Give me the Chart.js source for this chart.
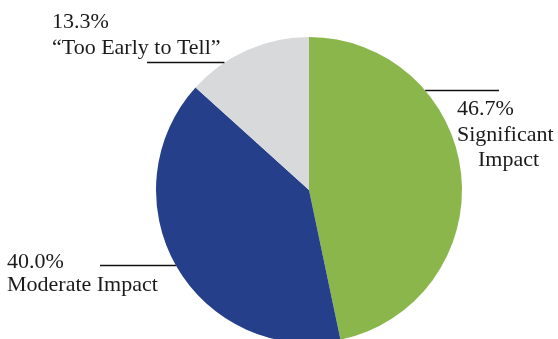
<!DOCTYPE html>
<html>
<head>
<meta charset="utf-8">
<script src="https://cdn.jsdelivr.net/npm/chart.js@4.4.1/dist/chart.umd.min.js"></script>
<style>
  html, body { margin: 0; padding: 0; background: #fff; overflow: hidden; }
  #wrap { position: relative; width: 558px; height: 339px; overflow: hidden; }
  #impactChart { position: absolute; left: 0; top: 0; }
</style>
</head>
<body>
<div id="wrap">
  <canvas id="impactChart" width="558" height="360"></canvas>
</div>
<script>
// survey answers, clockwise from 12 o'clock
const categories = ['Significant Impact', 'Moderate Impact', '\u201CToo Early to Tell\u201D'];
const shares = [46.7, 40.0, 13.3];
const sliceColors = ['#8ab64c', '#253f8b', '#d8d9db'];

// where each callout sits: text lines + leader line row, side of the pie it touches
const callouts = [
    { x: 457, y: 115, lineY: 90.5, lineTo: 499, side: 'right',
      lines: [{ t: 'pct', dx: 0 }, { t: 'Significant', dx: 0 }, { t: 'Impact', dx: 21 }] },
    { x: 7, y: 268, lineY: 265.5, lineTo: 100, side: 'left',
      lines: [{ t: 'pct', dx: 0 }, { t: 'name', dx: 0, gap: 22.5 }] },
    { x: 52, y: 28, lineY: 62.5, lineTo: 147, side: 'left',
      lines: [{ t: 'pct', dx: 0 }, { t: 'name', dx: 0 }] }
];

const calloutPlugin = {
    id: 'callouts',
    afterDraw(chart) {
        const ctx = chart.ctx;
        const meta = chart.getDatasetMeta(0);
        ctx.save();
        ctx.fillStyle = '#1a1a1a';
        ctx.strokeStyle = '#111';
        ctx.lineWidth = 1.5;
        ctx.font = '22px "Liberation Serif", "Times New Roman", serif';
        ctx.textBaseline = 'alphabetic';
        ctx.textAlign = 'left';

        callouts.forEach((c, i) => {
            const arc = meta.data[i];
            // leader line runs from the label to the pie's rim on that row
            const dy = c.lineY - arc.y;
            const half = Math.sqrt(Math.max(0, arc.outerRadius * arc.outerRadius - dy * dy));
            const rimX = c.side === 'right' ? arc.x + half : arc.x - half;
            ctx.beginPath();
            ctx.moveTo(c.lineTo, c.lineY);
            ctx.lineTo(rimX, c.lineY);
            ctx.stroke();

            let y = c.y;
            c.lines.forEach((ln, k) => {
                if (k > 0) y += ln.gap || 25.5;
                let txt = ln.t;
                if (txt === 'pct') txt = shares[i].toFixed(1) + '%';
                else if (txt === 'name') txt = categories[i];
                ctx.fillText(txt, c.x + ln.dx, y);
            });
        });
        ctx.restore();
    }
};

new Chart(document.getElementById('impactChart'), {
    type: 'pie',
    data: {
        labels: categories,
        datasets: [{
            data: shares,
            backgroundColor: sliceColors,
            borderWidth: 0
        }]
    },
    options: {
        responsive: false,
        animation: false,
        devicePixelRatio: 1,
        layout: { padding: { left: 156, right: 96, top: 37, bottom: 17 } },
        plugins: {
            legend: { display: false },
            tooltip: { enabled: false }
        }
    },
    plugins: [calloutPlugin]
});
</script>
</body>
</html>
